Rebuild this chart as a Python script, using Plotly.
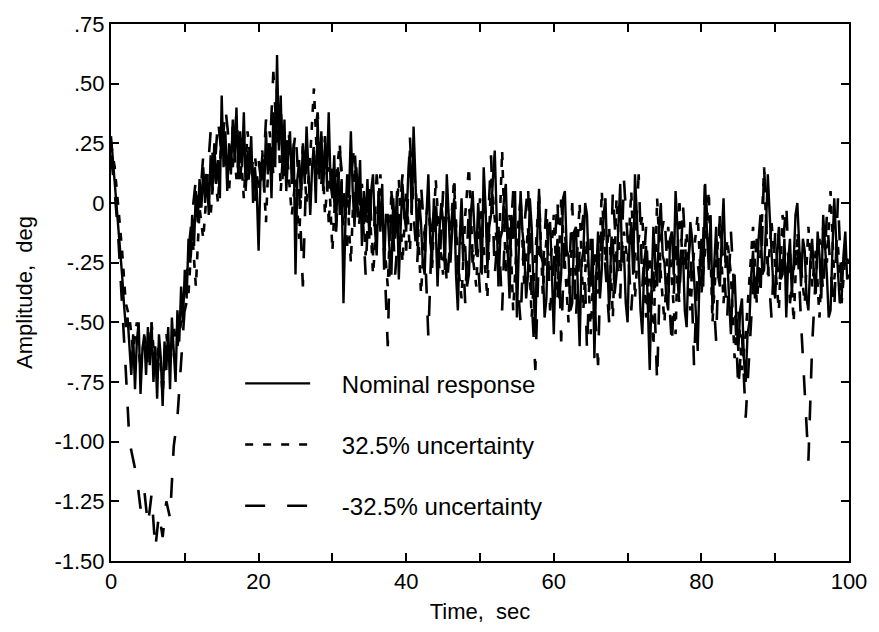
import plotly.graph_objects as go

# time bases (seconds)
time_start = 0.0
nominal_step = 0.25
uncertainty_step = 0.5

nominal = [
    0.28, 0.18, 0.10, 0.02, -0.08, -0.20, -0.30, -0.42, -0.52, -0.48,
    -0.60, -0.72, -0.55, -0.78, -0.58, -0.50, -0.80, -0.62, -0.55, -0.72,
    -0.52, -0.68, -0.50, -0.75, -0.60, -0.82, -0.55, -0.65, -0.85, -0.58,
    -0.70, -0.52, -0.78, -0.48, -0.62, -0.75, -0.45, -0.58, -0.35, -0.50,
    -0.28, -0.40, -0.15, -0.25, -0.05, -0.18, 0.05, -0.08, 0.10, -0.02,
    0.15, 0.00, 0.12, -0.05, 0.20, 0.05, 0.25, 0.08, 0.18, 0.02,
    0.45, 0.15, 0.30, 0.05, 0.25, 0.12, 0.35, 0.18, 0.40, 0.10,
    0.30, 0.15, 0.38, 0.05, 0.22, 0.12, 0.28, 0.00, 0.15, 0.05,
    -0.20, 0.10, 0.20, 0.05, 0.30, 0.12, 0.25, 0.02, 0.38, 0.15,
    0.62, 0.22, 0.45, 0.10, 0.35, 0.05, 0.20, 0.30, 0.08, 0.25,
    -0.30, 0.10, 0.18, 0.02, 0.25, 0.08, 0.32, 0.10, -0.05, 0.15,
    0.22, 0.00, 0.35, 0.10, 0.30, 0.05, 0.25, 0.12, 0.38, 0.08,
    0.02, 0.20, -0.10, 0.15, -0.05, 0.10, -0.42, -0.10, 0.12, 0.02,
    0.30, 0.05, -0.10, 0.15, 0.00, 0.18, -0.18, 0.05, -0.08, 0.10,
    -0.15, 0.05, 0.12, -0.10, -0.22, 0.05, -0.12, 0.08, -0.28, -0.05,
    -0.05, -0.20, -0.30, 0.02, -0.15, 0.05, -0.32, -0.10, 0.08, -0.05,
    -0.12, 0.10, 0.22, -0.05, 0.32, 0.10, -0.18, 0.02, -0.08, -0.25,
    -0.30, -0.05, 0.12, -0.15, -0.25, 0.02, -0.10, -0.35, -0.12, 0.00,
    -0.08, -0.28, 0.12, -0.05, -0.25, -0.10, 0.02, -0.30, -0.45, -0.15,
    0.02, -0.20, -0.18, -0.35, -0.30, -0.05, 0.05, -0.12, -0.22, 0.00,
    -0.12, -0.30, 0.15, -0.02, -0.28, -0.10, -0.05, 0.10, 0.22, -0.05,
    -0.35, -0.15, -0.12, 0.02, 0.08, -0.20, -0.40, -0.05, -0.15, 0.05,
    -0.48, -0.20, 0.05, -0.12, -0.20, -0.40, -0.30, 0.02, -0.10, -0.35,
    -0.55, -0.15, 0.06, -0.22, -0.25, -0.48, -0.40, -0.10, -0.08, -0.30,
    -0.55, -0.25, -0.15, -0.40, -0.30, 0.02, 0.05, -0.20, -0.22, -0.45,
    -0.42, -0.12, -0.10, -0.35, -0.60, -0.25, -0.20, 0.00, -0.05, -0.30,
    -0.35, -0.15, -0.65, -0.30, -0.12, -0.40, -0.28, -0.05, 0.02, -0.25,
    -0.45, -0.20, -0.15, -0.38, -0.30, -0.10, 0.08, -0.25, -0.20, -0.42,
    -0.50, -0.18, -0.08, -0.30, 0.12, -0.05, -0.30, -0.45, -0.55, -0.25,
    -0.18, -0.40, -0.70, -0.35, -0.10, -0.25, -0.35, -0.10, 0.00, -0.22,
    -0.25, -0.40, -0.45, -0.15, -0.12, -0.30, 0.05, -0.10, -0.38, -0.20,
    -0.20, -0.45, -0.52, -0.25, -0.08, -0.15, -0.30, -0.48, -0.62, -0.30,
    -0.15, -0.35, 0.08, -0.12, -0.28, -0.05, -0.45, -0.25, -0.10, -0.30,
    -0.35, -0.15, 0.02, -0.25, -0.22, -0.40, -0.55, -0.35, -0.30, -0.50,
    -0.62, -0.45, -0.40, -0.65, -0.75, -0.55, -0.50, -0.30, -0.20, -0.40,
    -0.35, -0.15, -0.05, -0.30, -0.28, -0.10, 0.12, -0.05, -0.18, -0.35,
    -0.40, -0.20, -0.10, -0.32, -0.30, -0.15, -0.48, -0.25, -0.15, -0.38,
    -0.25, -0.05, 0.00, -0.20, -0.35, -0.15, -0.20, -0.40, -0.45, -0.25,
    -0.15, -0.30, -0.38, -0.12, -0.22, -0.40, -0.05, -0.18, -0.30, -0.48,
    -0.45, -0.20, 0.02, -0.15, -0.28, -0.42, -0.40, -0.22, -0.12, -0.32,
    -0.30,
]

plus_unc = [
    0.25, 0.15, -0.02, -0.20, -0.42, -0.48, -0.62, -0.50, -0.70, -0.55,
    -0.68, -0.50, -0.72, -0.58, -0.80, -0.55, -0.68, -0.52, -0.60, -0.50,
    -0.45, -0.38, -0.12, -0.35, -0.02, -0.15, 0.06, -0.05, 0.15, 0.00,
    0.30, 0.18, 0.05, 0.32, 0.10, 0.25, 0.02, 0.30, 0.15, 0.20,
    0.05, 0.22, -0.08, 0.30, 0.12, 0.48, 0.05, 0.30, 0.15, -0.05,
    0.10, -0.15, 0.25, 0.00, 0.20, 0.48, 0.12, 0.28, -0.05, 0.15,
    -0.20, 0.10, 0.25, -0.10, 0.05, -0.25, 0.15, -0.05, 0.08, -0.22,
    0.02, -0.30, -0.08, 0.12, -0.15, -0.35, 0.05, -0.12, 0.10, -0.25,
    0.05, -0.20, 0.15, -0.02, -0.38, -0.12, 0.02, -0.28, 0.10, -0.15,
    -0.30, 0.00, -0.12, 0.10, -0.25, -0.40, -0.05, 0.15, -0.22, -0.35,
    0.02, -0.18, -0.40, 0.12, -0.08, -0.25, 0.22, -0.30, -0.05, -0.45,
    -0.15, 0.02, -0.35, -0.10, -0.48, -0.20, 0.04, -0.38, -0.15, -0.28,
    -0.05, -0.40, 0.02, -0.25, -0.50, -0.10, -0.32, 0.00, -0.45, -0.15,
    -0.55, -0.20, -0.38, 0.05, -0.25, -0.10, -0.48, 0.02, -0.30, -0.12,
    -0.25, 0.05, -0.40, -0.15, -0.05, -0.48, -0.22, -0.60, 0.02, -0.30,
    -0.50, -0.10, -0.32, -0.55, 0.02, -0.28, -0.12, -0.45, -0.20, -0.05,
    -0.38, -0.20, 0.05, -0.50, -0.25, -0.08, -0.42, -0.15, -0.30, -0.65,
    -0.45, -0.70, -0.55, -0.30, -0.10, -0.42, -0.22, 0.15, -0.30, -0.08,
    -0.25, -0.45, -0.05, -0.30, -0.20, -0.50, -0.12, -0.28, -0.42, -0.10,
    -0.35, -0.20, -0.48, -0.10, -0.25, 0.05, -0.32, -0.18, -0.42, -0.22,
    -0.25,
]

minus_unc = [
    0.20, 0.05, -0.15, -0.40, -0.70, -1.00, -1.08, -1.15, -1.28, -1.20,
    -1.35, -1.22, -1.45, -1.30, -1.40, -1.25, -1.32, -1.02, -0.90, -0.65,
    -0.40, -0.20, -0.05, 0.10, -0.02, 0.20, 0.08, 0.30, 0.12, 0.35,
    0.20, 0.40, 0.25, 0.15, 0.38, 0.10, 0.30, 0.05, 0.22, 0.00,
    0.18, 0.05, 0.35, 0.20, 0.55, 0.25, 0.40, 0.10, 0.32, 0.15,
    0.30, 0.05, -0.35, 0.18, 0.02, 0.25, 0.38, 0.08, 0.28, -0.08,
    0.15, -0.12, 0.22, 0.05, -0.18, 0.10, 0.25, -0.12, 0.02, -0.30,
    0.08, -0.22, 0.12, -0.10, -0.20, -0.60, 0.05, -0.30, -0.08, 0.12,
    -0.20, 0.28, -0.05, -0.25, 0.08, -0.15, -0.56, -0.10, 0.02, -0.28,
    0.05, -0.35, -0.15, 0.08, -0.30, -0.08, -0.42, 0.00, -0.25, -0.12,
    -0.38, 0.05, -0.15, 0.20, -0.30, -0.10, -0.45, 0.00, -0.22, 0.05,
    -0.30, -0.50, -0.10, 0.08, -0.40, -0.70, -0.18, -0.30, 0.00, -0.45,
    -0.25, 0.02, -0.58, -0.12, -0.35, 0.00, -0.48, -0.20, -0.05, -0.62,
    -0.15, -0.40, -0.68, -0.05, -0.30, -0.50, 0.05, -0.22, -0.40, 0.10,
    -0.15, -0.45, -0.20, 0.12, -0.35, -0.10, -0.50, -0.28, -0.75, -0.15,
    -0.05, -0.35, -0.60, -0.18, -0.42, 0.00, -0.30, -0.15, -0.68, -0.25,
    -0.40, 0.10, -0.20, -0.32, -0.58, -0.05, -0.25, -0.48, -0.12, -0.40,
    -0.78, -0.55, -0.90, -0.62, -0.35, -0.15, -0.40, 0.15, -0.25, -0.48,
    -0.12, -0.35, -0.20, 0.00, -0.42, -0.28, -0.15, -0.50, -0.80, -1.08,
    -0.60, -0.30, -0.15, -0.38, -0.05, -0.28, -0.45, 0.02, -0.35, -0.20,
    -0.28,
]

series_names = ["Nominal response", "32.5% uncertainty", "-32.5% uncertainty"]

x_tickvals = [0, 10, 20, 30, 40, 50, 60, 70, 80, 90, 100]
x_ticktext = ["0", "", "20", "", "40", "", "60", "", "80", "", "100"]
y_tickvals = [-1.5, -1.25, -1.0, -0.75, -0.5, -0.25, 0, 0.25, 0.5, 0.75]
y_ticktext = ["-1.50", "-1.25", "-1.00", "-.75", "-.50", "-.25", "0", ".25", ".50", ".75"]

t_nom = [time_start + i * nominal_step for i in range(len(nominal))]
t_unc = [time_start + i * uncertainty_step for i in range(len(plus_unc))]

FONT = "Liberation Sans, Arial, Helvetica, sans-serif"
PAD = "\u00a0" * 4  # gap between legend sample and its text

fig = go.Figure()
fig.add_trace(go.Scatter(x=t_nom, y=nominal, mode="lines", name=PAD + series_names[0],
                         legendgroup="a",
                         line=dict(color="black", width=2.4)))
fig.add_trace(go.Scatter(x=t_unc, y=plus_unc, mode="lines", name=PAD + series_names[1],
                         legendgroup="b",
                         line=dict(color="black", width=2.6, dash="8px,10px")))
fig.add_trace(go.Scatter(x=t_unc, y=minus_unc, mode="lines", name=PAD + series_names[2],
                         legendgroup="c",
                         line=dict(color="black", width=2.6, dash="20px,22px")))

axis_common = dict(
    showline=True, linecolor="black", linewidth=2, mirror="ticks",
    ticks="inside", ticklen=8, tickwidth=2, tickcolor="black",
    showgrid=False, zeroline=False,
    tickfont=dict(family=FONT, size=22, color="black"),
)

fig.update_layout(
    width=879, height=632,
    margin=dict(l=111, r=26, t=15, b=66),
    paper_bgcolor="white", plot_bgcolor="white",
    font=dict(family=FONT, size=22, color="black"),
    xaxis=dict(range=[0, 100], tickvals=x_tickvals, ticktext=x_ticktext,
               title=dict(text="Time,  sec", font=dict(family=FONT, size=22), standoff=10),
               **axis_common),
    yaxis=dict(range=[-1.5, 0.75], tickvals=y_tickvals, ticktext=y_ticktext,
               title=dict(text="Amplitude,  deg", font=dict(family=FONT, size=22), standoff=16),
               **axis_common),
    legend=dict(x=0.175, y=0.372, xanchor="left", yanchor="top",
                bgcolor="rgba(0,0,0,0)", borderwidth=0,
                font=dict(family=FONT, size=24, color="black"),
                itemwidth=65, tracegroupgap=27),
    showlegend=True,
)

fig.write_html("out.html")
